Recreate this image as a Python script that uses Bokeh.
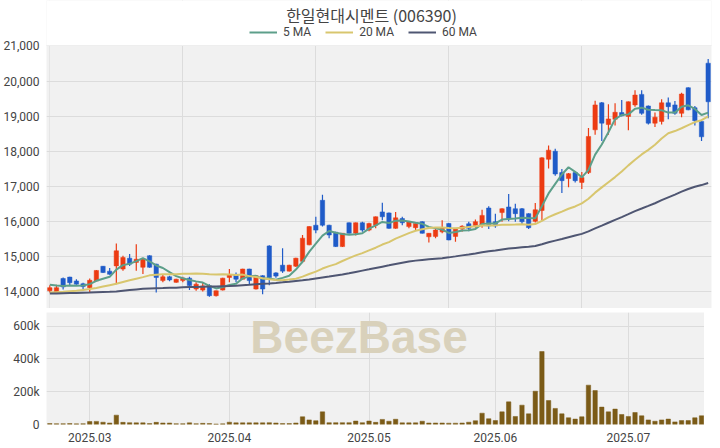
from bokeh.plotting import figure
from bokeh.layouts import column
from bokeh.models import (ColumnDataSource, FixedTicker, Legend, Label, Range1d,
                          Grid, NumeralTickFormatter, BoxAnnotation)
from bokeh.embed import file_html
from bokeh.resources import INLINE

title_text = "한일현대시멘트 (006390)"

opens = [14020, 13950, 14370, 14410, 14300, 14220, 14110, 14300, 14720, 14580,
         14730, 14640, 14950, 14830, 14690, 15020, 14780, 14310, 14420, 14260,
         14310, 14380, 14070, 14040, 14160, 13880, 14040, 14400, 14480, 14350,
         14640, 14070, 14450, 15300, 14530, 14750, 14580, 14720, 14860, 15330,
         15890, 16600, 15890, 15690, 15280, 15960, 15660, 15960, 15750, 15890,
         16270, 16240, 15800, 16080, 15850, 15820, 15990, 15560, 15570, 15700,
         15940, 15570, 15780, 15930, 15880, 15890, 16380, 15990, 16250, 16410,
         16360, 16360, 16220, 16000, 16310, 17770, 18000, 17390, 17220, 17390,
         17110, 17390, 18610, 19380, 18760, 18910, 19100, 18990, 19320, 19620,
         19290, 18800, 18850, 19380, 19320, 19080, 19810, 19240, 18850, 20510]
highs = [14180, 14190, 14400, 14420, 14350, 14250, 14370, 14610, 14730, 14670,
         15370, 15020, 15070, 15350, 14950, 15030, 14790, 14500, 14450, 14360,
         14420, 14420, 14260, 14260, 14210, 14030, 14390, 14640, 14540, 14650,
         14650, 14460, 14460, 15320, 14550, 15230, 14760, 14960, 15610, 15860,
         16130, 16760, 15900, 15700, 15670, 15970, 15970, 15990, 15960, 16140,
         16530, 16250, 16270, 16130, 16000, 15950, 16000, 15670, 15800, 16030,
         15950, 15810, 15890, 15990, 16050, 16330, 16430, 16220, 16370, 16780,
         16500, 16380, 16230, 16520, 17830, 18160, 18070, 17490, 17380, 17400,
         17410, 18660, 19440, 19400, 19340, 19370, 19460, 19420, 19740, 19740,
         19300, 19100, 19480, 19530, 19430, 19670, 19820, 19290, 18860, 20630]
lows = [13970, 13940, 14060, 14160, 14190, 14070, 13970, 14290, 14530, 14480,
        14210, 14590, 14730, 14590, 14500, 14680, 13970, 14260, 14290, 14250,
        14260, 14040, 14020, 14000, 13850, 13860, 14030, 14260, 14260, 14340,
        14210, 14060, 13920, 14180, 14390, 14530, 14570, 14700, 14810, 15320,
        15660, 15850, 15520, 15270, 15270, 15650, 15600, 15700, 15720, 15800,
        16030, 15790, 15790, 15890, 15800, 15750, 15650, 15400, 15520, 15660,
        15460, 15420, 15700, 15720, 15820, 15820, 15780, 15820, 15990, 16000,
        15990, 15910, 15780, 15970, 16030, 17510, 17300, 16810, 16970, 17110,
        16920, 17350, 18470, 18290, 18470, 18730, 18990, 18600, 19270, 19040,
        18760, 18690, 18760, 18910, 19040, 18970, 19170, 18730, 18290, 18940]
closes = [14110, 14110, 14130, 14250, 14210, 14140, 14320, 14600, 14540, 14490,
          15160, 14970, 14780, 14920, 14920, 14690, 14400, 14420, 14330, 14350,
          14380, 14170, 14210, 14160, 13880, 14020, 14380, 14480, 14350, 14640,
          14310, 14450, 14070, 14400, 14440, 14580, 14750, 14950, 15520, 15850,
          15750, 15890, 15610, 15280, 15660, 15660, 15960, 15750, 15940, 16130,
          16130, 15800, 16100, 15960, 15990, 15940, 15660, 15660, 15750, 15810,
          15470, 15800, 15860, 15800, 15990, 16170, 15870, 15870, 16360, 16080,
          16220, 15990, 15820, 16330, 17810, 18030, 17350, 17160, 17360, 17160,
          17250, 18420, 19320, 18800, 18920, 19110, 19010, 19410, 19600, 19080,
          18800, 18970, 19380, 19270, 19080, 19630, 19180, 18870, 18410, 19410]
volumes = [6000, 5000, 5000, 6000, 4000, 5000, 18000, 19000, 14000, 9000,
           57000, 13000, 11000, 10000, 10000, 6000, 13000, 9000, 9000, 5000,
           5000, 10000, 5000, 7000, 6000, 3000, 4000, 14000, 10000, 10000,
           10000, 10000, 10000, 11000, 9000, 6000, 6000, 9000, 47000, 28000,
           23000, 77000, 11000, 11000, 11000, 11000, 21000, 11000, 21000, 13000,
           31000, 20000, 32000, 10000, 10000, 10000, 20000, 9000, 9000, 9000,
           8000, 8000, 9000, 14000, 23000, 69000, 35000, 24000, 77000, 138000,
           49000, 118000, 65000, 203000, 445000, 146000, 98000, 65000, 41000, 33000,
           47000, 240000, 207000, 106000, 77000, 94000, 61000, 49000, 73000, 53000,
           28000, 20000, 28000, 33000, 16000, 24000, 24000, 41000, 53000, 650000]
ma5 = [14190, 14170, 14160, 14170, 14162, 14168, 14210, 14304, 14362, 14418,
       14622, 14752, 14788, 14864, 14950, 14856, 14742, 14670, 14552, 14438,
       14376, 14330, 14288, 14254, 14160, 14088, 14130, 14184, 14222, 14374,
       14432, 14446, 14364, 14374, 14334, 14388, 14448, 14624, 14848, 15130,
       15364, 15592, 15724, 15676, 15638, 15620, 15634, 15662, 15794, 15888,
       15982, 15950, 16020, 16024, 15996, 15958, 15930, 15842, 15800, 15764,
       15670, 15698, 15738, 15748, 15784, 15924, 15938, 15940, 16052, 16070,
       16080, 16104, 16094, 16088, 16434, 16796, 17068, 17336, 17542, 17412,
       17256, 17470, 17902, 18190, 18542, 18914, 19032, 19050, 19210, 19242,
       19180, 19172, 19166, 19100, 19100, 19266, 19308, 19206, 19034, 19100]
ma20 = [13970, 13980, 13990, 14005, 14020, 14045, 14070, 14100, 14140, 14180,
        14220, 14270, 14320, 14365, 14410, 14460, 14480, 14490, 14492, 14492,
        14506, 14509, 14513, 14508, 14492, 14486, 14489, 14483, 14473, 14481,
        14438, 14412, 14377, 14351, 14327, 14321, 14339, 14365, 14425, 14500,
        14568, 14654, 14724, 14780, 14869, 14951, 15030, 15094, 15173, 15248,
        15339, 15406, 15508, 15586, 15663, 15731, 15777, 15812, 15824, 15822,
        15808, 15803, 15816, 15842, 15858, 15884, 15879, 15885, 15906, 15904,
        15908, 15918, 15904, 15922, 16013, 16118, 16202, 16277, 16358, 16425,
        16514, 16645, 16818, 16968, 17115, 17262, 17419, 17596, 17758, 17908,
        18037, 18186, 18364, 18511, 18574, 18654, 18746, 18831, 18884, 18996]
ma60 = [13940, 13945, 13950, 13955, 13960, 13965, 13970, 13978, 13985, 13990,
        14000, 14020, 14040, 14060, 14075, 14085, 14092, 14098, 14105, 14110,
        14118, 14125, 14130, 14135, 14140, 14145, 14150, 14155, 14165, 14178,
        14190, 14205, 14218, 14230, 14245, 14262, 14280, 14300, 14320, 14342,
        14370, 14398, 14425, 14455, 14485, 14520, 14558, 14595, 14632, 14670,
        14708, 14746, 14785, 14822, 14858, 14880, 14900, 14918, 14935, 14950,
        14973, 15001, 15030, 15056, 15085, 15119, 15145, 15166, 15197, 15223,
        15241, 15258, 15275, 15298, 15347, 15402, 15451, 15497, 15548, 15595,
        15642, 15713, 15798, 15876, 15960, 16044, 16122, 16204, 16291, 16365,
        16440, 16516, 16604, 16685, 16763, 16847, 16921, 16986, 17034, 17094]

month_ticks = [6, 27, 48, 67, 87]
month_labels = ["2025.03", "2025.04", "2025.05", "2025.06", "2025.07"]
price_ticks = [14000, 15000, 16000, 17000, 18000, 19000, 20000, 21000]
price_grid_x = [20, 40, 60, 80]
volume_ticks = [0, 200000, 400000, 600000]
volume_labels = ["0", "200k", "400k", "600k"]
legend_labels = ["5 MA", "20 MA", "60 MA"]
watermark = "BeezBase"

UP, DOWN = "#ec3b12", "#1f5bc8"
BG, GRID, TXT = "#f1f1f1", "#dcdcdc", "#444444"
FONT = "Roboto"

n = len(closes)
idx = list(range(n))
colors = [UP if c >= o else DOWN for o, c in zip(opens, closes)]
src = ColumnDataSource(dict(
    x=idx, o=opens, h=highs, l=lows, c=closes,
    top=[max(o, c) for o, c in zip(opens, closes)],
    bottom=[min(o, c) for o, c in zip(opens, closes)],
    color=colors, vol=volumes, ma5=ma5, ma20=ma20, ma60=ma60))

xr = Range1d(-0.5, n - 0.5)
FW, PFH, VFH = 665, 308, 112

# price panel: the top strip of the frame (white) holds the title and legend
p = figure(frame_width=FW, frame_height=PFH, x_range=xr,
           y_range=Range1d(13515, 22297), title=None,
           output_backend="svg", toolbar_location=None, x_axis_location=None,
           min_border_left=37, min_border_right=2, min_border_top=0,
           min_border_bottom=0)
p.background_fill_color = BG
p.border_fill_color = "white"
p.outline_line_color = None

yax = p.yaxis[0]
yax.ticker = FixedTicker(ticks=price_ticks)
yax.formatter = NumeralTickFormatter(format="0,0")
yax.major_label_text_font = FONT
yax.major_label_text_font_size = "12px"
yax.major_label_text_color = TXT
yax.axis_line_color = None
yax.major_tick_line_color = None
yax.minor_tick_line_color = None
yax.major_label_standoff = 1
p.ygrid.grid_line_color = GRID
p.add_layout(Grid(dimension=0, ticker=FixedTicker(ticks=price_grid_x),
                  grid_line_color=GRID))
p.add_layout(BoxAnnotation(bottom=21015, fill_color="white", fill_alpha=1,
                           line_color=None, level="underlay"))

p.segment(x0="x", y0="l", x1="x", y1="h", line_color="color", line_width=1.2, source=src)
p.vbar(x="x", width=0.66, top="top", bottom="bottom", fill_color="color",
       line_color="color", line_width=0.5, source=src)
r5 = p.line("x", "ma5", line_color="#5d9f8a", line_width=2, source=src)
r20 = p.line("x", "ma20", line_color="#d8c66e", line_width=2, source=src)
r60 = p.line("x", "ma60", line_color="#4f5672", line_width=2, source=src)

p.add_layout(Label(x=325, y=PFH - 14, x_units="screen", y_units="screen",
                   text=title_text, text_align="center", text_baseline="middle",
                   text_font="Noto Sans CJK KR", text_font_size="16px",
                   text_color=TXT))

legend = Legend(items=[(legend_labels[0], [r5]), (legend_labels[1], [r20]),
                       (legend_labels[2], [r60])],
                orientation="horizontal", location=(203, PFH - 39),
                label_text_font=FONT, label_text_font_size="12px",
                label_text_color=TXT, glyph_width=28, glyph_height=12,
                label_height=12, label_standoff=6, spacing=14, padding=1,
                margin=0, border_line_color=None, background_fill_alpha=0)
p.add_layout(legend)

# volume panel
v = figure(frame_width=FW, frame_height=VFH, x_range=xr,
           y_range=Range1d(0, 683000), title=None,
           output_backend="svg", toolbar_location=None,
           min_border_left=37, min_border_right=2, min_border_top=4,
           min_border_bottom=0)
v.background_fill_color = BG
v.border_fill_color = "white"
v.outline_line_color = None
v.vbar(x="x", width=0.66, top="vol", bottom=0, fill_color="#7b5b17",
       line_color="#7b5b17", line_width=0.5, source=src)
v.xaxis.ticker = FixedTicker(ticks=month_ticks)
v.xaxis.major_label_overrides = {t: l for t, l in zip(month_ticks, month_labels)}
v.yaxis.ticker = FixedTicker(ticks=volume_ticks)
v.yaxis.major_label_overrides = {t: l for t, l in zip(volume_ticks, volume_labels)}
for ax in [v.xaxis[0], v.yaxis[0]]:
    ax.major_label_text_font = FONT
    ax.major_label_text_font_size = "12px"
    ax.major_label_text_color = TXT
    ax.axis_line_color = None
    ax.major_tick_line_color = None
    ax.minor_tick_line_color = None
    ax.major_label_standoff = 2
v.yaxis[0].major_label_standoff = 1
v.xgrid.grid_line_color = GRID
v.ygrid.grid_line_color = GRID
v.add_layout(Label(x=46.5, y=VFH - 24, x_units="data", y_units="screen",
                   text=watermark, text_align="center", text_baseline="middle",
                   text_font="Liberation Sans", text_font_style="bold",
                   text_font_size="46px", text_color="#d9d1bb"))

layout = column(p, v, spacing=0)
open("out.html", "w").write(file_html(layout, INLINE))
